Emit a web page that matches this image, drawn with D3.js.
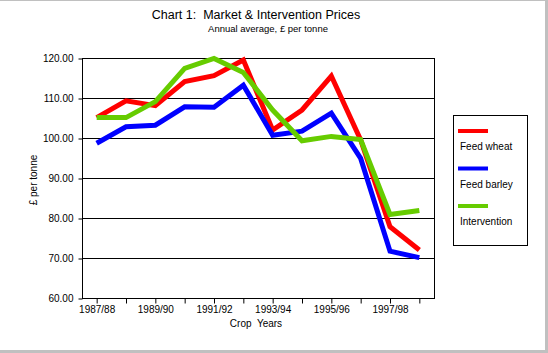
<!DOCTYPE html>
<html>
<head>
<meta charset="utf-8">
<script src="https://cdn.jsdelivr.net/npm/d3@7"></script>
<style>
  body { margin: 0; background: #fff; }
  svg text { font-family: "Liberation Sans", Arial, sans-serif; fill: #000; white-space: pre; }
</style>
</head>
<body>
<div id="chart"></div>
<script>
// --- Datos ---
const cropYears = ["1987/88", "1988/89", "1989/90", "1990/91", "1991/92", "1992/93",
                   "1993/94", "1994/95", "1995/96", "1996/97", "1997/98", "1998/99"];
const feedWheat    = [105.1, 109.3, 108.1, 114.1, 115.6, 119.5, 102.0, 107.0, 115.5, 99.5, 77.8, 72.0];
const feedBarley   = [98.7, 102.8, 103.2, 107.8, 107.7, 113.2, 100.7, 101.7, 106.2, 94.9, 71.7, 70.1];
const intervention = [105.1, 105.1, 109.1, 117.4, 119.9, 116.4, 107.0, 99.3, 100.4, 99.6, 80.9, 81.9];
const yTicks = [60, 70, 80, 90, 100, 110, 120];
const xLabels = ["1987/88", "1989/90", "1991/92", "1993/94", "1995/96", "1997/98"];

const series = [
  { name: "Feed wheat", values: feedWheat, color: "#ff0000" },
  { name: "Feed barley", values: feedBarley, color: "#0000ff" },
  { name: "Intervention", values: intervention, color: "#66cc00" }
];

// --- SVG ---
const W = 548, H = 353;
const svg = d3.select("#chart").append("svg")
  .attr("width", W).attr("height", H);

// marco gris
svg.append("rect").attr("x", 0).attr("y", 0).attr("width", W).attr("height", 1).attr("fill", "#c0c0c0");
svg.append("rect").attr("x", W - 3).attr("y", 0).attr("width", 3).attr("height", H).attr("fill", "#c0c0c0");
svg.append("rect").attr("x", 0).attr("y", H - 3).attr("width", W).attr("height", 3).attr("fill", "#c0c0c0");

const plot = { left: 82, right: 434, top: 58, bottom: 298 };

const x = d3.scaleBand().domain(cropYears).range([plot.left, plot.right]);
const xc = d => x(d) + x.bandwidth() / 2;
const y = d3.scaleLinear().domain([60, 120]).range([plot.bottom, plot.top]);

// --- Títulos ---
svg.append("text").attr("x", 256).attr("y", 19).attr("text-anchor", "middle")
  .attr("xml:space", "preserve")
  .style("font-size", "12.5px").text("Chart 1:  Market & Intervention Prices");
svg.append("text").attr("x", 268).attr("y", 32).attr("text-anchor", "middle")
  .style("font-size", "9.5px").text("Annual average, £ per tonne");

// --- Rejilla ---
svg.append("g").selectAll("line")
  .data(yTicks.filter(t => t > 60 && t < 120))
  .join("line")
  .attr("x1", plot.left).attr("x2", plot.right)
  .attr("y1", d => Math.round(y(d)) + 0.5).attr("y2", d => Math.round(y(d)) + 0.5)
  .attr("stroke", "#000").attr("stroke-width", 1);

// --- Ejes ---
const yAxis = svg.append("g")
  .attr("transform", `translate(${plot.left + 0.5},0.5)`)
  .call(d3.axisLeft(y).tickValues(yTicks).tickFormat(d3.format(".2f")).tickSize(4).tickPadding(5));
yAxis.select(".domain").remove();
yAxis.selectAll("text").style("font-size", "10px");

const xAxis = svg.append("g")
  .attr("transform", `translate(0.5,${plot.bottom + 0.5})`)
  .call(d3.axisBottom(x).tickSize(5).tickPadding(2)
    .tickFormat(d => xLabels.includes(d) ? d : ""));
xAxis.select(".domain").remove();
xAxis.selectAll("text").style("font-size", "10px");

// marco del área
svg.append("rect")
  .attr("x", plot.left + 0.5).attr("y", plot.top + 0.5)
  .attr("width", plot.right - plot.left).attr("height", plot.bottom - plot.top)
  .attr("fill", "none").attr("stroke", "#000").attr("stroke-width", 1);

svg.append("text").attr("x", 256).attr("y", 327).attr("text-anchor", "middle")
  .attr("xml:space", "preserve")
  .style("font-size", "10px").text("Crop  Years");

svg.append("text")
  .attr("transform", "translate(37,180) rotate(-90)")
  .attr("text-anchor", "middle")
  .style("font-size", "10px").text("£ per tonne");

// --- Líneas ---
const line = d3.line()
  .x((d, i) => xc(cropYears[i]))
  .y(d => y(d));

svg.append("g").selectAll("path")
  .data(series)
  .join("path")
  .attr("d", d => line(d.values))
  .attr("fill", "none")
  .attr("stroke", d => d.color)
  .attr("stroke-width", 5)
  .attr("stroke-linejoin", "miter");

// --- Leyenda ---
const legend = svg.append("g");
legend.append("rect")
  .attr("x", 453.5).attr("y", 115.5).attr("width", 74).attr("height", 130)
  .attr("fill", "#fff").attr("stroke", "#000");

const items = legend.selectAll("g.item")
  .data(series)
  .join("g")
  .attr("class", "item")
  .attr("transform", (d, i) => `translate(0,${131 + i * 37.5})`);
items.append("line")
  .attr("x1", 458).attr("x2", 488).attr("y1", 0).attr("y2", 0)
  .attr("stroke", d => d.color).attr("stroke-width", 4);
items.append("text")
  .attr("x", 460).attr("y", 19)
  .style("font-size", "10px")
  .text(d => d.name);
</script>
</body>
</html>
